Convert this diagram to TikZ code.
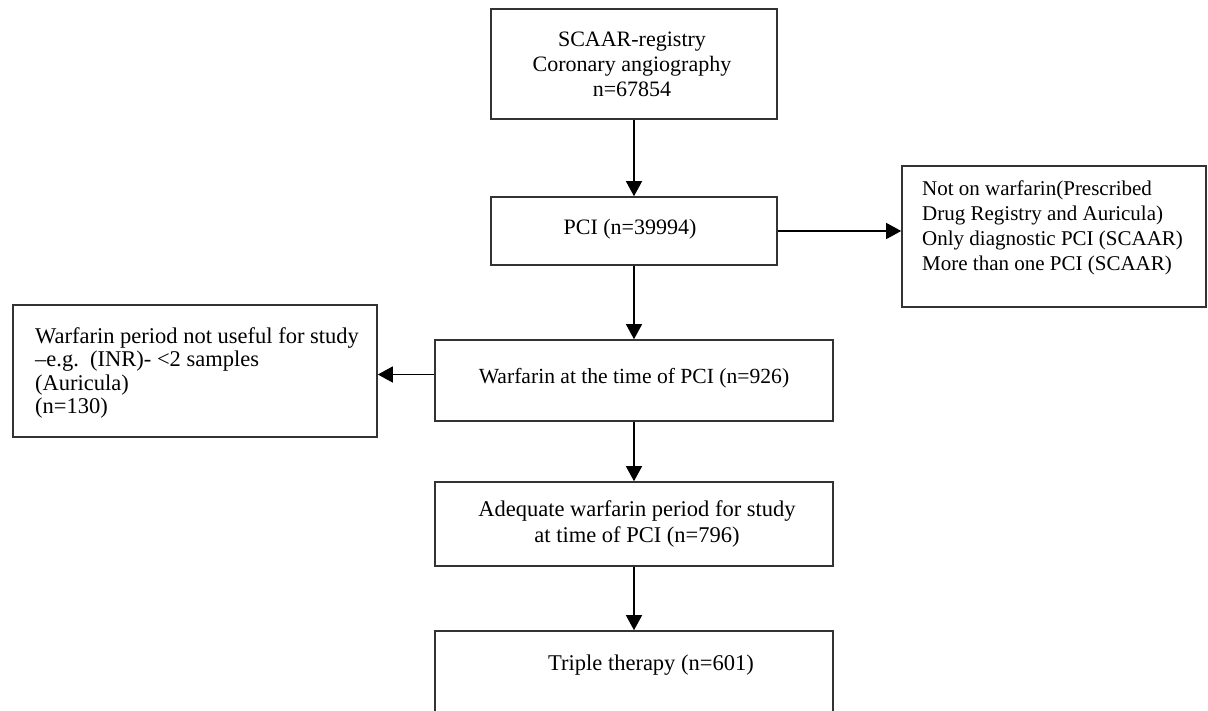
\documentclass[tikz,border=0pt]{standalone}
\usepackage{fontspec}
\setmainfont{Liberation Serif}
\usetikzlibrary{arrows.meta,calc}
\begin{document}
\begin{tikzpicture}[x=1pt,y=-1pt,
  boxnode/.style={draw=black!80,line width=1.6pt,rectangle,inner sep=0pt},
  txt/.style={inner sep=0pt,font=\fontsize{22}{25}\selectfont},
  arr/.style={line width=1.3pt,-{Triangle[length=15pt,width=16pt]}}]
\useasboundingbox (0,0) rectangle (1208,710);
\clip (0,0) rectangle (1208,710);
% boxes
\node[boxnode,minimum width=286pt,minimum height=110pt] (top) at (634,64) {};
\node[boxnode,minimum width=286pt,minimum height=68pt] (pci) at (634,231) {};
\node[boxnode,minimum width=304pt,minimum height=141pt] (rbox) at (1054,236.5) {};
\node[boxnode,minimum width=364pt,minimum height=132pt] (lbox) at (195,371) {};
\node[boxnode,minimum width=398pt,minimum height=81pt] (warf) at (634,380.5) {};
\node[boxnode,minimum width=398pt,minimum height=84pt] (adeq) at (634,524) {};
\node[boxnode,minimum width=398pt,minimum height=140pt] (trip) at (634,701) {};
% texts
\node[txt,align=center] (toptxt) at (632,64) {SCAAR-registry\\Coronary angiography\\n=67854};
\node[txt] (pcitxt) at (630,229) {PCI (n=39994)};
\node[txt,align=left,anchor=north west,font=\fontsize{21}{25}\selectfont] (rtxt) at (922,181) {Not on warfarin(Prescribed\\Drug Registry and Auricula)\\Only diagnostic PCI (SCAAR)\\More than one PCI (SCAAR)};
\node[txt,align=left,anchor=west,font=\fontsize{22.5}{23.5}\selectfont] (ltxt) at (35,373) {Warfarin period not useful for study\\–e.g.\ \ (INR)- <2 samples\\(Auricula)\\(n=130)};
\node[txt,font=\fontsize{21.6}{25}\selectfont] (warftxt) at (634,378) {Warfarin at the time of PCI (n=926)};
\node[txt,align=center,font=\fontsize{22.5}{26}\selectfont] (adeqtxt) at (637,524) {Adequate warfarin period for study\\at time of PCI (n=796)};
\node[txt,font=\fontsize{22.5}{26}\selectfont] (triptxt) at (651,665) {Triple therapy (n=601)};
% connectors
\draw[arr] (top.south) -- (pci.north);
\draw[arr] (pci.east) -- (pci.east -| rbox.west);
\draw[arr] (pci.south) -- (warf.north);
\draw[arr] ([yshift=6pt]warf.west) -- ([yshift=6pt]warf.west -| lbox.east);
\draw[arr] (warf.south) -- (adeq.north);
\draw[arr] (adeq.south) -- (trip.north);
\end{tikzpicture}
\end{document}
